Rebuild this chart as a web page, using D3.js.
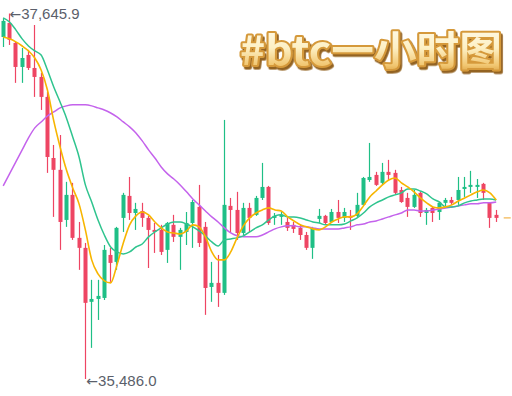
<!DOCTYPE html>
<html>
<head>
<meta charset="utf-8">
<script src="https://cdn.jsdelivr.net/npm/d3@7"></script>
<style>
  html, body { margin: 0; padding: 0; background: #ffffff; }
  svg { display: block; }
</style>
</head>
<body>
<svg id="chart" width="512" height="396"></svg>
<script>
// ---- data (hourly BTC candles) ----
const open = [
  37507, 37590, 37472, 37330, 37401, 37324, 37271, 37153, 36792, 36722,
  36426, 36574, 36320, 36261, 35942, 35959, 35965, 36219, 36178, 36438,
  36568, 36467, 36479, 36438, 36367, 36367, 36249, 36397, 36326, 36355,
  36408, 36503, 36385, 36030, 36054, 35995, 36509, 36485, 36349, 36497,
  36456, 36556, 36621, 36438, 36444, 36414, 36397, 36379, 36337, 36261,
  36432, 36450, 36414, 36473, 36438, 36450, 36450, 36515, 36662, 36692,
  36645, 36710, 36704, 36603, 36556, 36503, 36586, 36467, 36497, 36473,
  36527, 36544, 36544, 36609, 36621, 36621, 36639, 36527, 36456
];
const high = [
  37620, 37645.9, 37478, 37442, 37431, 37578, 37295, 37182, 36869, 36928,
  36651, 36645, 36414, 36290, 36072, 36072, 36278, 36261, 36385, 36586,
  36680, 36527, 36527, 36450, 36408, 36397, 36414, 36456, 36379, 36473,
  36544, 36633, 36414, 36178, 36219, 37017, 36556, 36592, 36527, 36527,
  36568, 36763, 36627, 36467, 36473, 36438, 36414, 36397, 36355, 36385,
  36491, 36456, 36491, 36544, 36497, 36485, 36586, 36680, 36881, 36710,
  36763, 36781, 36722, 36621, 36586, 36603, 36592, 36497, 36503, 36532,
  36556, 36562, 36680, 36680, 36716, 36668, 36645, 36532, 36485
];
const low = [
  37448, 37460, 37236, 37236, 37312, 37153, 37076, 36704, 36444, 36249,
  36385, 36308, 36131, 35486.0, 35670, 35835, 35953, 36060, 36131, 36355,
  36426, 36367, 36385, 36142, 36231, 36219, 36172, 36296, 36131, 36278,
  36261, 36266, 35865, 35942, 35912, 35983, 36349, 36308, 36337, 36355,
  36450, 36544, 36397, 36397, 36397, 36361, 36349, 36308, 36249, 36196,
  36408, 36397, 36408, 36408, 36414, 36367, 36444, 36509, 36651, 36627,
  36633, 36662, 36574, 36527, 36444, 36497, 36444, 36397, 36414, 36426,
  36503, 36515, 36515, 36562, 36586, 36556, 36544, 36379, 36414
];
const close = [
  37602, 37490, 37330, 37383, 37324, 37271, 37153, 36798, 36722, 36414,
  36574, 36320, 36261, 35936, 35959, 35977, 36249, 36172, 36379, 36574,
  36467, 36491, 36438, 36367, 36355, 36237, 36408, 36326, 36367, 36408,
  36532, 36290, 36024, 36054, 35995, 36515, 36485, 36349, 36497, 36438,
  36556, 36621, 36408, 36450, 36456, 36379, 36373, 36337, 36261, 36379,
  36450, 36408, 36473, 36438, 36473, 36438, 36515, 36674, 36680, 36633,
  36710, 36692, 36586, 36532, 36503, 36574, 36467, 36485, 36467, 36527,
  36544, 36527, 36603, 36621, 36633, 36633, 36586, 36438, 36438
];
// moving averages (short / mid / long), read per candle
const maShort = [
  37507, 37496, 37478, 37454, 37425, 37383, 37312, 37194, 37011, 36857,
  36722, 36615, 36521, 36367, 36190, 36107, 36066, 36054, 36160, 36290,
  36397, 36450, 36473, 36456, 36414, 36379, 36355, 36349, 36343, 36361,
  36397, 36385, 36326, 36237, 36190, 36190, 36237, 36320, 36391, 36438,
  36467, 36485, 36497, 36485, 36479, 36444, 36420, 36397, 36385, 36373,
  36367, 36385, 36414, 36432, 36444, 36444, 36462, 36509, 36562, 36597,
  36633, 36662, 36674, 36645, 36621, 36592, 36556, 36527, 36503, 36497,
  36503, 36515, 36538, 36556, 36574, 36592, 36603, 36586, 36544
];
const maMid = [
  37620, 37596, 37549, 37496, 37454, 37425, 37401, 37312, 37212, 37123,
  37029, 36916, 36798, 36633, 36532, 36426, 36337, 36266, 36237, 36225,
  36237, 36266, 36284, 36326, 36355, 36379, 36402, 36414, 36414, 36402,
  36385, 36361, 36332, 36296, 36272, 36308, 36314, 36320, 36332, 36355,
  36379, 36397, 36426, 36450, 36456, 36444, 36444, 36438, 36426, 36414,
  36408, 36397, 36397, 36397, 36402, 36420, 36438, 36467, 36503, 36527,
  36544, 36562, 36574, 36586, 36609, 36609, 36597, 36580, 36550, 36532,
  36503, 36503, 36509, 36527, 36538, 36544, 36550, 36550, 36544
];
const maLong = [
  36627, 36698, 36769, 36840, 36911, 36970, 37005, 37040, 37064, 37088,
  37100, 37106, 37106, 37106, 37100, 37088, 37076, 37058, 37035, 37005,
  36976, 36940, 36893, 36840, 36792, 36739, 36698, 36668, 36633, 36592,
  36550, 36515, 36479, 36444, 36414, 36379, 36349, 36332, 36326, 36326,
  36326, 36337, 36355, 36373, 36385, 36391, 36391, 36385, 36385, 36379,
  36373, 36373, 36373, 36373, 36379, 36385, 36397, 36402, 36414, 36420,
  36432, 36444, 36456, 36467, 36485, 36485, 36479, 36479, 36485, 36491,
  36497, 36503, 36509, 36515, 36521, 36521, 36527, 36527, 36532
];
const titleText = "#btc一小时图";

// ---- drawing ----
const svg = d3.select("#chart");
const W = 512, H = 396;
const UP = "#1fbf86", DOWN = "#ee4563";

const idx = open.map((_, i) => i);
const x = d3.scalePoint().domain(idx).range([2.7, 495.7]);
const yMin = d3.min(low), yMax = d3.max(high);
const y = d3.scaleLinear().domain([yMin, yMax]).range([379, 13.5]);
const bodyW = 4;

const candles = svg.append("g").attr("class", "candles");
const g = candles.selectAll("g").data(idx).join("g");
g.append("line")
  .attr("x1", i => Math.round(x(i)) + 0.5).attr("x2", i => Math.round(x(i)) + 0.5)
  .attr("y1", i => y(high[i])).attr("y2", i => y(low[i]))
  .attr("stroke", i => close[i] >= open[i] ? UP : DOWN)
  .attr("stroke-width", 1.2);
g.append("rect")
  .attr("x", i => Math.round(x(i)) + 0.5 - bodyW / 2)
  .attr("width", bodyW)
  .attr("y", i => y(Math.max(open[i], close[i])))
  .attr("height", i => Math.max(1.2, Math.abs(y(open[i]) - y(close[i]))))
  .attr("fill", i => close[i] >= open[i] ? UP : DOWN);

const line = d3.line().x((d, i) => x(i) + 0.5).y(d => y(d)).curve(d3.curveMonotoneX);
svg.append("path").datum(maLong).attr("d", line)
  .attr("fill", "none").attr("stroke", "#c463ec").attr("stroke-width", 1.5);
svg.append("path").datum(maMid).attr("d", line)
  .attr("fill", "none").attr("stroke", "#2fc48e").attr("stroke-width", 1.5);
svg.append("path").datum(maShort).attr("d", line)
  .attr("fill", "none").attr("stroke", "#f7b500").attr("stroke-width", 1.6);

// last price marker
const last = close.length - 1;
svg.append("line")
  .attr("x1", x(last) + 8).attr("x2", W)
  .attr("y1", y(close[last])).attr("y2", y(close[last]))
  .attr("stroke", "#f3b34a").attr("stroke-width", 1.2)
  .attr("stroke-dasharray", "7,4");

// high / low labels
const fmt = d3.format(",.1f");
const hiI = high.indexOf(yMax), loI = low.indexOf(yMin);
function extremeLabel(px, py, value) {
  const t = svg.append("text")
    .attr("x", px).attr("y", py).attr("dy", "0.36em")
    .attr("font-family", "'Liberation Sans', Arial, sans-serif").attr("font-size", 15)
    .attr("fill", "#5b5f6b");
  t.append("tspan").attr("font-family", "'DejaVu Sans', sans-serif").attr("font-size", 14).text("←");
  t.append("tspan").text(fmt(value));
}
extremeLabel(x(hiI) + 0.5, y(yMax) + 0.5, yMax);
extremeLabel(x(loI) + 1.5, y(yMin) + 2, yMin);

// gold title (single text: gold outline + cream fill + brown drop shadow)
const defs = svg.append("defs");
const grad = defs.append("linearGradient").attr("id", "gold")
  .attr("x1", 0).attr("y1", 0).attr("x2", 0).attr("y2", 1);
[["0", "#fffef6"], ["0.5", "#fdf0c4"], ["0.8", "#f1c670"], ["1", "#cf8f30"]]
  .forEach(([o, c]) => grad.append("stop").attr("offset", o).attr("stop-color", c));
const flt = defs.append("filter").attr("id", "shadow")
  .attr("x", "-10%").attr("y", "-20%").attr("width", "120%").attr("height", "150%");
flt.append("feDropShadow").attr("dx", 1.8).attr("dy", 2.6)
  .attr("stdDeviation", 0.7).attr("flood-color", "#8e5a12").attr("flood-opacity", 0.95);
svg.append("text")
  .attr("x", 240).attr("y", 65)
  .attr("font-family", "'Noto Sans CJK SC', sans-serif")
  .attr("font-weight", 700).attr("font-size", 40)
  .attr("textLength", 262).attr("lengthAdjust", "spacingAndGlyphs")
  .attr("fill", "url(#gold)").attr("stroke", "#d5993a").attr("stroke-width", 4)
  .attr("stroke-linejoin", "round").attr("paint-order", "stroke")
  .attr("filter", "url(#shadow)")
  .text(titleText);
</script>
</body>
</html>
